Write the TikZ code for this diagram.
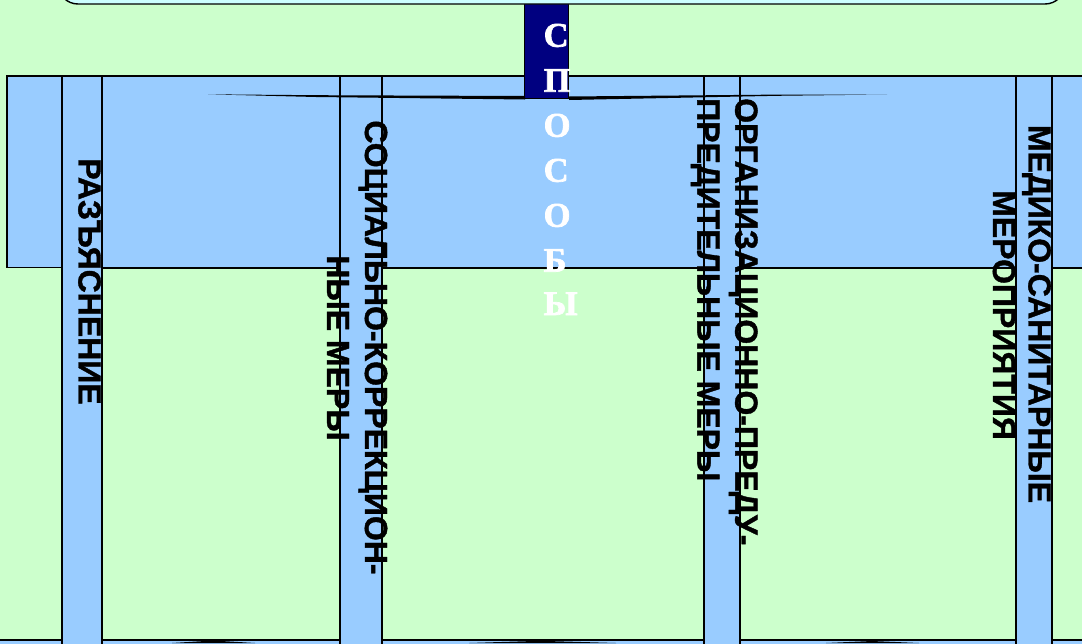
\documentclass[tikz,border=0pt]{standalone}
\usepackage{fontspec}
\setmainfont{Liberation Sans}
\newfontfamily\lblfont{Liberation Sans}[BoldFeatures={FakeBold=1.2}]
\newfontfamily\serifbf{Liberation Serif}[BoldFeatures={FakeBold=2}]
\definecolor{bggreen}{HTML}{CCFFCC}
\definecolor{bandblue}{HTML}{99CCFF}
\definecolor{navybox}{HTML}{000080}
\definecolor{topcyan}{HTML}{CCFFFF}
\begin{document}
\begin{tikzpicture}[x=1pt,y=-1pt,
  box/.style={draw=black,line width=1.4pt},
  lbl/.style={font=\lblfont\fontsize{32}{40}\selectfont\bfseries,rotate=-90,inner sep=0pt,text=black},
  letter/.style={font=\serifbf\fontsize{34.5}{40}\selectfont\bfseries,inner sep=0pt,text=white,anchor=base west},
  bracefill/.style={fill=black}
]
\useasboundingbox (0,0) rectangle (1082,643);
\clip (0,0) rectangle (1082,643);
\fill[bggreen] (0,0) rectangle (1082,643);
% lower band peeking at the bottom edge
\fill[bandblue] (0,640) rectangle (1082,660);
% navy box
\draw[draw=black,line width=1pt,fill=navybox] (524.5,2) rectangle (568.5,98);
% top rounded box (only its lower edge is visible)
\draw[box,fill=topcyan,rounded corners=20pt] (58,-40) rectangle (1065,4);
% horizontal band
\draw[box,fill=bandblue] (7,76) rectangle (1100,268);
% green boxes
\fill[bggreen] (-10,268) rectangle (62,640);
\draw[box] (-10,640) -- (62,640) -- (62,268);
\draw[box,fill=bggreen] (102,268) rectangle (340,640);
\draw[box,fill=bggreen] (382,268) rectangle (704,640);
\draw[box,fill=bggreen] (740,268) rectangle (1016,640);
\draw[box,fill=bggreen] (1052,268) rectangle (1100,640);
% vertical strips
\draw[box,fill=bandblue] (62,76) rectangle (102,670);
\draw[box,fill=bandblue] (340,76) rectangle (382,670);
\draw[box,fill=bandblue] (704,76) rectangle (740,670);
\draw[box,fill=bandblue] (1016,76) rectangle (1052,670);
% navy box part over the band
\draw[draw=black,line width=1pt,fill=navybox] (524.5,70) rectangle (568.5,98);
\fill[navybox] (525.2,60) rectangle (567.8,80);
% bits of a lower brace at the bottom edge
\fill[bracefill] (172,643) -- (213,640.5) -- (255,643) -- cycle;
\fill[bracefill] (469,643) -- (540,640.8) -- (616,643) -- cycle;
\fill[bracefill] (826,643) -- (872,641) -- (919,643) -- cycle;
% brace arms
\fill[bracefill] (208,94.3) -- (316,95.2) -- (525,96) -- (525,99.5) -- (316,97) -- cycle;
\fill[bracefill] (569,96.5) -- (777,94.6) -- (887,94.5) -- (777,95.8) -- (569,100) -- cycle;
% vertical letters
\node[letter] (s1) at (543.5,46.7) {С};
\node[letter] (s2) at (543.5,91.7) {П};
\node[letter] (s3) at (543.5,136.7) {О};
\node[letter] (s4) at (543.5,181.7) {С};
\node[letter] (s5) at (543.5,226.7) {О};
\node[letter] (s6) at (543.5,271.7) {Б};
\node[letter] (s7) at (543.5,315) {Ы};
% rotated labels
\node[lbl,anchor=base] (t1) at (78.5,281.5) {РАЗЪЯСНЕНИЕ};
\node[lbl,anchor=base] (t2a) at (365,347.5) {СОЦИАЛЬНО-КОРРЕКЦИОН-};
\node[lbl,anchor=base] (t2b) at (327,348) {НЫЕ МЕРЫ};
\node[lbl,anchor=base west] (t3a) at (735.3,98) {ОРГАНИЗАЦИОННО-ПРЕДУ-};
\node[lbl,anchor=base west] (t3b) at (697.3,98) {ПРЕДИТЕЛЬНЫЕ МЕРЫ};
\node[lbl,anchor=base] (t4a) at (1028.5,314) {МЕДИКО-САНИТАРНЫЕ};
\node[lbl,anchor=base] (t4b) at (993,315) {МЕРОПРИЯТИЯ};
\end{tikzpicture}
\end{document}
